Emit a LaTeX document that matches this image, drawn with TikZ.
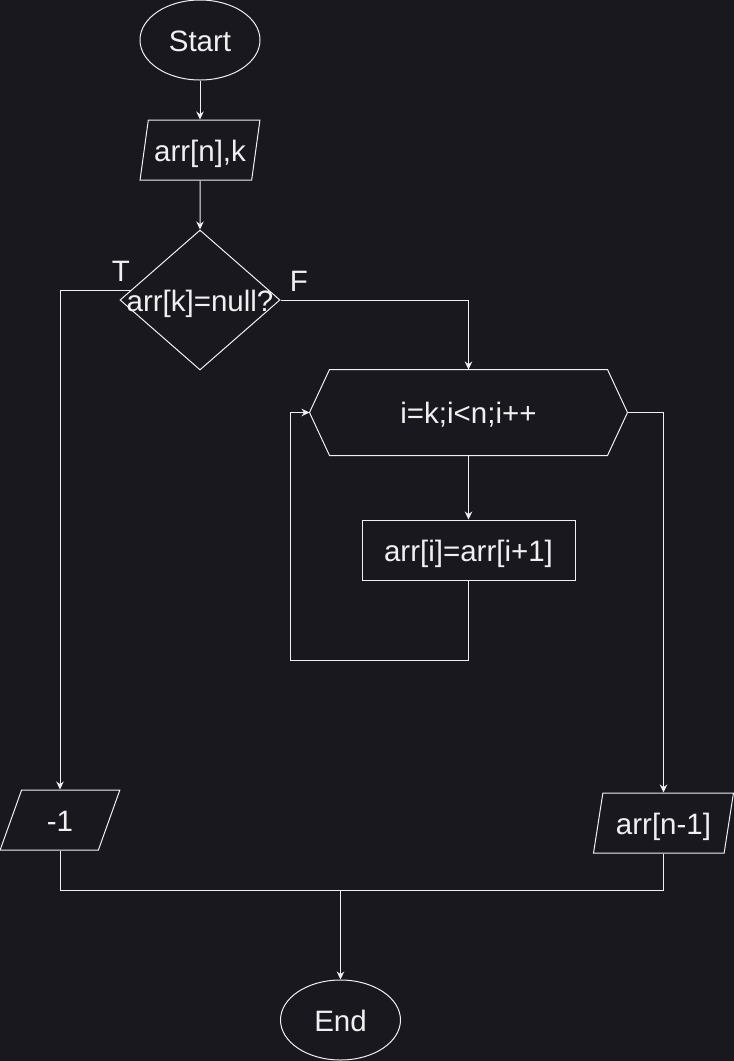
\documentclass[tikz,border=0pt]{standalone}
\usepackage{fontspec}
\setmainfont{Liberation Sans}
\usetikzlibrary{shapes.geometric,arrows.meta}
\definecolor{bgcol}{HTML}{19181F}
\definecolor{ink}{HTML}{F0F0F0}

\begin{document}
\begin{tikzpicture}[x=1pt,y=-1pt,
every node/.style={draw=ink,text=ink,line width=1pt,inner sep=0pt,text height=22pt,text depth=0pt,font=\fontsize{29.5}{35}\selectfont},
term/.style={ellipse,minimum width=120pt,minimum height=80pt},
io/.style={trapezium,trapezium left angle=71.57,trapezium right angle=108.43,trapezium stretches=true,minimum width=#1,minimum height=60pt},
decision/.style={diamond,aspect=1.143,minimum width=160pt,minimum height=140pt},
process/.style={rectangle,minimum width=213pt,minimum height=60pt},
loopbox/.style={rectangle,draw=none,minimum width=317pt,minimum height=85pt},
tag/.style={draw=none},
line/.style={draw=ink,line width=1pt},
arr/.style={line,-{Stealth[length=8pt,width=7.5pt]}}]

\fill[bgcol] (0,0) rectangle (734,1061);
\useasboundingbox (0,0) rectangle (734,1061);

\node[term] (start) at (200,40) {Start};
\node[io=120pt] (inp) at (200,150) {arr[n],k};
\node[decision] (dec) at (200,300) {\makebox[0pt]{arr[k]=null?}};
\node[tag] (t) at (121,270) {T};
\node[tag] (f) at (299,280) {F};
\node[loopbox] (loop) at (468.5,412.5) {i=k;i<n;i++};
\node[process] (body) at (468.5,550) {arr[i]=arr[i+1]};
\node[io=120pt] (m1) at (60,820) {-1};
\node[io=140pt] (out) at (663.5,823) {arr[n-1]};
\node[term] (stop) at (340.5,1020) {End};
\coordinate (back) at (290,660);
\coordinate (join) at (340.5,890);

\draw[line] (loop.west) -- ([xshift=20pt]loop.north west) -- ([xshift=-20pt]loop.north east)
	-- (loop.east) -- ([xshift=-20pt]loop.south east) -- ([xshift=20pt]loop.south west) -- cycle;

\draw[arr] (start) -- (inp);
\draw[arr] (inp) -- (dec);
\draw[arr] (dec.172) -| (m1.north);
\draw[arr] (dec.east) -| (loop.north);
\draw[arr] (loop.south) -- (body.north);
\draw[arr] (body.south) |- (back) |- (loop.west);
\draw[arr] (loop.east) -| (out.north);
\draw[line] (m1.south) |- (join);
\draw[line] (out.south) |- (join);
\draw[arr] (join) -- (stop.north);
\end{tikzpicture}
\end{document}
